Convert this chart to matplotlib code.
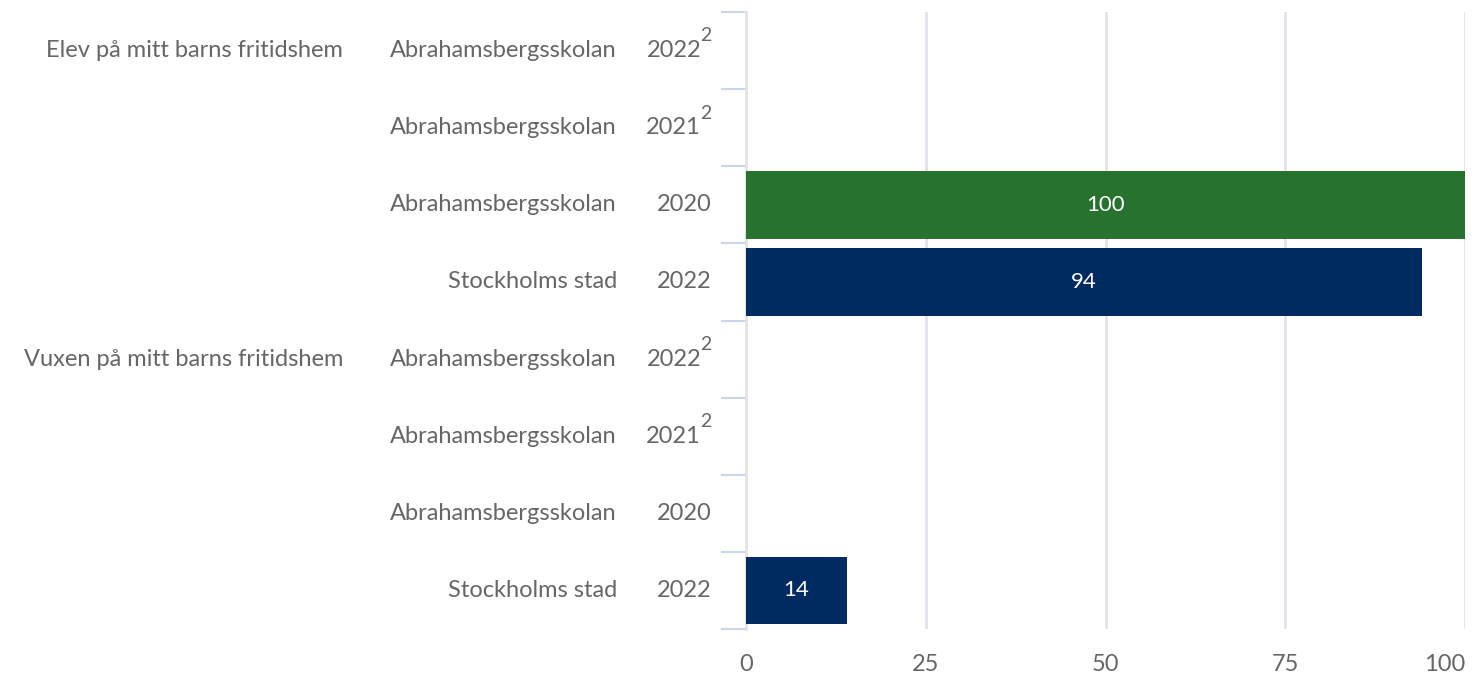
import matplotlib.pyplot as plt
from matplotlib.transforms import blended_transform_factory

# Data
groups = ["Elev på mitt barns fritidshem", "", "", "",
          "Vuxen på mitt barns fritidshem", "", "", ""]
units = ["Abrahamsbergsskolan", "Abrahamsbergsskolan", "Abrahamsbergsskolan", "Stockholms stad",
         "Abrahamsbergsskolan", "Abrahamsbergsskolan", "Abrahamsbergsskolan", "Stockholms stad"]
years = ["2022", "2021", "2020", "2022", "2022", "2021", "2020", "2022"]
footnotes = ["2", "2", "", "", "2", "2", "", ""]
values = [None, None, 100, 94, None, None, None, 14]
bar_colors = ["#27722f", "#27722f", "#27722f", "#002b62",
              "#27722f", "#27722f", "#27722f", "#002b62"]
xticks = [0, 25, 50, 75, 100]

plt.rcParams["font.family"] = ["Lato", "DejaVu Sans"]
text_color = "#666666"
fs = 17

fig = plt.figure(figsize=(14.74, 6.73), dpi=100)
ax = fig.add_axes([746 / 1474, 1 - 629 / 673, 719 / 1474, 617 / 673])

n = len(units)
ypos = list(range(n))

#Draw the bars and value labels
for y, v, c in zip(ypos, values, bar_colors):
    if v is None:
        continue
    ax.barh(y, v, height=0.88, color=c, zorder=3)
    ax.text(v / 2, y, f"{v}", ha="center", va="center", color="white",
            fontsize=16, zorder=4)

ax.set_xlim(0, 100)
ax.set_ylim(n - 0.5, -0.5)

#Grid and axes styling
ax.set_xticks(xticks)
ax.tick_params(axis="x", length=0, labelsize=fs, labelcolor=text_color, pad=18)
ax.get_xticklabels()[-1].set_horizontalalignment("right")
ax.grid(axis="x", color="#e3e3e8", linewidth=2, zorder=0)
ax.set_yticks([])
ax.set_yticks([i - 0.5 for i in range(n + 1)], minor=True)
ax.tick_params(axis="y", which="minor", length=18, width=1.5, color="#ccd6eb")
for side in ["top", "right", "bottom"]:
    ax.spines[side].set_visible(False)
ax.spines["left"].set_color("#e3e3e8")
ax.spines["left"].set_linewidth(2)

#Category labels in three columns
trans = blended_transform_factory(fig.transFigure, ax.transData)
for y, g, u, yr, fn in zip(ypos, groups, units, years, footnotes):
    if g:
        ax.text(343 / 1474, y, g, transform=trans, ha="right", va="center",
                fontsize=fs, color=text_color)
    ax.text(617 / 1474, y, u, transform=trans, ha="right", va="center",
            fontsize=fs, color=text_color)
    if fn:
        ax.text(701 / 1474, y, yr, transform=trans, ha="right", va="center",
                fontsize=fs, color=text_color)
        ax.text(700 / 1474, y - 0.19, fn, transform=trans, ha="left", va="center",
                fontsize=14, color=text_color)
    else:
        ax.text(712 / 1474, y, yr, transform=trans, ha="right", va="center",
                fontsize=fs, color=text_color)

fig.savefig("out.png", dpi=100)
